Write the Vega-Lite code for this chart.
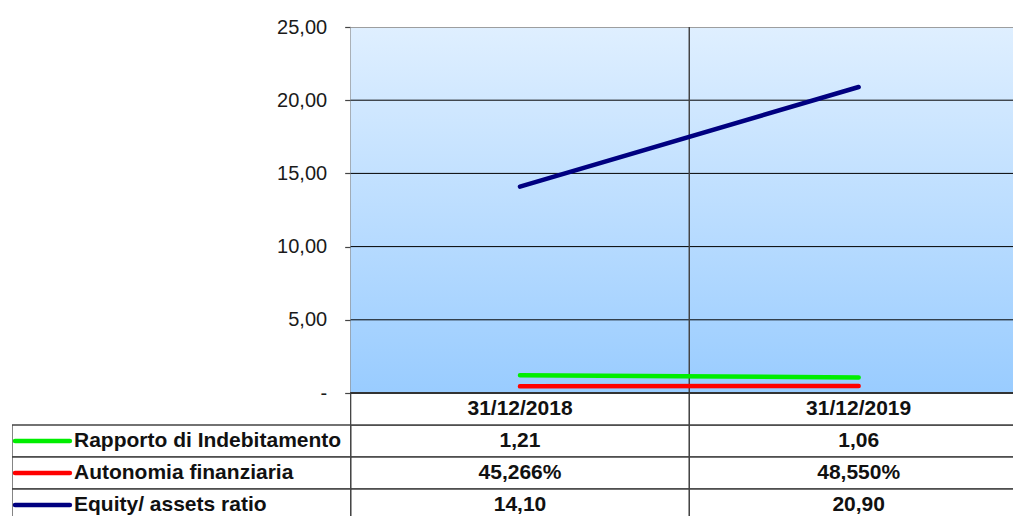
{
  "$schema": "https://vega.github.io/schema/vega-lite/v6.json",
  "width": 1001,
  "height": 489,
  "autosize": {"type": "none"},
  "padding": {"left": 12, "top": 27, "right": 0, "bottom": 0},
  "background": "white",
  "config": {"view": {"stroke": null}, "font": "Liberation Sans"},
  "datasets": {
    "vals": [
      {"series": "Rapporto di Indebitamento", "date": "31/12/2018", "value": 1.21, "display": "1,21"},
      {"series": "Rapporto di Indebitamento", "date": "31/12/2019", "value": 1.06, "display": "1,06"},
      {"series": "Autonomia finanziaria", "date": "31/12/2018", "value": 0.45266, "display": "45,266%"},
      {"series": "Autonomia finanziaria", "date": "31/12/2019", "value": 0.4855, "display": "48,550%"},
      {"series": "Equity/ assets ratio", "date": "31/12/2018", "value": 14.10, "display": "14,10"},
      {"series": "Equity/ assets ratio", "date": "31/12/2019", "value": 20.90, "display": "20,90"}
    ],
    "dates": [{"date": "31/12/2018"}, {"date": "31/12/2019"}],
    "seriesList": [
      {"series": "Rapporto di Indebitamento"},
      {"series": "Autonomia finanziaria"},
      {"series": "Equity/ assets ratio"}
    ],
    "grid": [{"v": 5}, {"v": 10}, {"v": 15}, {"v": 20}]
  },
  "resolve": {"scale": {"y": "independent"}},
  "layer": [
    {
      "layer": [
        {
          "data": {"name": "dates"},
          "mark": {
            "type": "rect",
            "clip": true,
            "fill": {"gradient": "linear", "x1": 0, "y1": 0, "x2": 0, "y2": 1,
              "stops": [{"offset": 0, "color": "#dfefff"}, {"offset": 1, "color": "#99ccff"}]}
          },
          "encoding": {
            "x": {"field": "date", "type": "nominal",
              "scale": {"type": "band", "domain": ["label", "31/12/2018", "31/12/2019"], "range": [0, 1016], "paddingInner": 0, "paddingOuter": 0},
              "axis": null},
            "y": {"datum": 25, "type": "quantitative",
              "scale": {"domain": [0, 25], "range": [366, 0], "nice": false, "zero": false},
              "axis": {
                "values": [0, 5, 10, 15, 20, 25],
                "labelExpr": "datum.value == 0 ? '-\u2007\u2009' : replace(format(datum.value, '.2f'), '.', ',')",
                "offset": -338.67,
                "grid": false,
                "domain": true, "domainColor": "#444", "domainWidth": 1.5,
                "tickColor": "#444", "tickSize": 6, "tickWidth": 1.2,
                "labelPadding": 18, "labelFontSize": 20, "labelColor": "#1a1a1a",
                "labelFont": "Liberation Sans", "title": null
              }},
            "y2": {"datum": 0}
          }
        },
        {
          "data": {"name": "grid"},
          "mark": {"type": "rule", "color": "#000", "strokeWidth": 1, "clip": true},
          "encoding": {
            "x": {"datum": "31/12/2018", "type": "nominal", "bandPosition": 0},
            "x2": {"datum": "31/12/2019", "bandPosition": 1},
            "y": {"field": "v", "type": "quantitative"}
          }
        },
        {
          "data": {"name": "dates"},
          "mark": {"type": "rule", "color": "#999", "strokeWidth": 1.5, "clip": true},
          "encoding": {
            "x": {"datum": "31/12/2018", "type": "nominal", "bandPosition": 0},
            "x2": {"datum": "31/12/2019", "bandPosition": 1},
            "y": {"datum": 25, "type": "quantitative"}
          }
        },
        {
          "data": {"name": "dates"},
          "mark": {"type": "rule", "color": "#444", "strokeWidth": 1.2},
          "encoding": {
            "x": {"datum": "31/12/2019", "type": "nominal", "bandPosition": 0},
            "y": {"datum": 0, "type": "quantitative"},
            "y2": {"datum": 25}
          }
        },
        {
          "data": {"name": "vals"},
          "mark": {"type": "line", "strokeWidth": 4.5, "strokeCap": "round", "clip": true},
          "encoding": {
            "x": {"field": "date", "type": "nominal"},
            "y": {"field": "value", "type": "quantitative"},
            "color": {"field": "series", "type": "nominal",
              "scale": {"domain": ["Rapporto di Indebitamento", "Autonomia finanziaria", "Equity/ assets ratio"], "range": ["#00ee00", "#ff0000", "#000080"]},
              "legend": null}
          }
        }
      ]
    },
    {
      "layer": [
        {
          "data": {"name": "vals"},
          "mark": {"type": "rect", "fill": "white", "stroke": "#444", "strokeWidth": 1.3, "clip": true},
          "encoding": {
            "x": {"field": "date", "type": "nominal"},
            "y": {"field": "series", "type": "nominal",
              "scale": {"type": "band", "domain": ["header", "Rapporto di Indebitamento", "Autonomia finanziaria", "Equity/ assets ratio"], "range": [366, 494], "paddingInner": 0, "paddingOuter": 0},
              "axis": null}
          }
        },
        {
          "data": {"name": "seriesList"},
          "mark": {"type": "rect", "fill": "white", "stroke": "#444", "strokeWidth": 1.3, "clip": true},
          "encoding": {
            "x": {"datum": "label", "type": "nominal"},
            "y": {"field": "series", "type": "nominal"}
          }
        },
        {
          "data": {"name": "dates"},
          "mark": {"type": "rect", "fill": "white", "stroke": "#444", "strokeWidth": 1.3, "clip": true},
          "encoding": {
            "x": {"field": "date", "type": "nominal"},
            "y": {"datum": "header", "type": "nominal"}
          }
        },
        {
          "data": {"name": "dates"},
          "mark": {"type": "rule", "color": "#333", "strokeWidth": 2.2, "clip": true},
          "encoding": {
            "x": {"datum": "31/12/2018", "type": "nominal", "bandPosition": 0},
            "x2": {"datum": "31/12/2019", "bandPosition": 1},
            "y": {"datum": "header", "type": "nominal", "bandPosition": 0}
          }
        },
        {
          "data": {"name": "dates"},
          "mark": {"type": "text", "fontSize": 21, "fontWeight": "bold", "color": "#111", "align": "center", "baseline": "middle", "font": "Liberation Sans", "clip": true},
          "encoding": {
            "x": {"field": "date", "type": "nominal"},
            "y": {"datum": "header", "type": "nominal"},
            "text": {"field": "date"}
          }
        },
        {
          "data": {"name": "vals"},
          "mark": {"type": "text", "fontSize": 21, "fontWeight": "bold", "color": "#111", "align": "center", "baseline": "middle", "font": "Liberation Sans", "clip": true},
          "encoding": {
            "x": {"field": "date", "type": "nominal"},
            "y": {"field": "series", "type": "nominal"},
            "text": {"field": "display"}
          }
        },
        {
          "data": {"name": "seriesList"},
          "mark": {"type": "rule", "strokeWidth": 4.5, "strokeCap": "round"},
          "encoding": {
            "x": {"datum": "label", "type": "nominal", "bandPosition": 0.0089},
            "x2": {"datum": "label", "bandPosition": 0.171},
            "y": {"field": "series", "type": "nominal"},
            "color": {"field": "series", "type": "nominal", "legend": null}
          }
        },
        {
          "data": {"name": "seriesList"},
          "mark": {"type": "text", "fontSize": 21, "fontWeight": "bold", "color": "#111", "align": "left", "baseline": "middle", "font": "Liberation Sans", "clip": true},
          "encoding": {
            "x": {"datum": "label", "type": "nominal", "bandPosition": 0.183},
            "y": {"field": "series", "type": "nominal"},
            "text": {"field": "series"}
          }
        }
      ]
    }
  ]
}
